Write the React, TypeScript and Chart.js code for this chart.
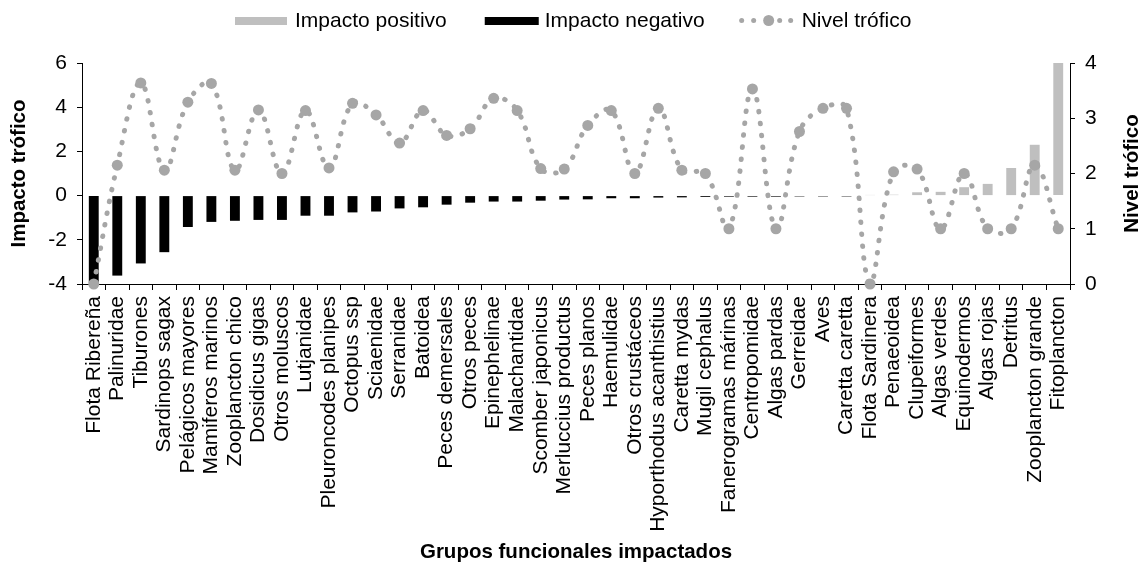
import React, { useEffect, useRef } from 'react';
import { Chart, registerables } from 'chart.js';

Chart.register(...registerables);

const FONT = "'Liberation Sans', Arial, Helvetica, sans-serif";

const categories = [
  'Flota Ribereña', 'Palinuridae', 'Tiburones', 'Sardinops sagax', 'Pelágicos mayores',
  'Mamiferos marinos', 'Zooplancton chico', 'Dosidicus gigas', 'Otros moluscos', 'Lutjanidae',
  'Pleuroncodes planipes', 'Octopus ssp', 'Sciaenidae', 'Serranidae', 'Batoidea',
  'Peces demersales', 'Otros peces', 'Epinephelinae', 'Malachantidae', 'Scomber japonicus',
  'Merluccius productus', 'Peces planos', 'Haemulidae', 'Otros crustáceos', 'Hyporthodus acanthistius',
  'Caretta mydas', 'Mugil cephalus', 'Fanerogramas márinas', 'Centropomidae', 'Algas pardas',
  'Gerreidae', 'Aves', 'Caretta caretta', 'Flota Sardinera', 'Penaeoidea',
  'Clupeiformes', 'Algas verdes', 'Equinodermos', 'Algas rojas', 'Detritus',
  'Zooplancton grande', 'Fitoplancton',
];

const impactoNegativo = [
  -3.95, -3.62, -3.07, -2.56, -1.42,
  -1.19, -1.14, -1.1, -1.1, -0.91,
  -0.91, -0.76, -0.72, -0.58, -0.53,
  -0.41, -0.32, -0.27, -0.27, -0.23,
  -0.18, -0.17, -0.12, -0.12, -0.09,
  -0.08, -0.06, -0.05, -0.05, -0.05,
  -0.04, -0.04, -0.04, null, null,
  null, null, null, null, null,
  null, null,
];

const impactoPositivo = [
  null, null, null, null, null,
  null, null, null, null, null,
  null, null, null, null, null,
  null, null, null, null, null,
  null, null, null, null, null,
  null, null, null, null, null,
  null, null, null, 0.03, 0.04,
  0.15, 0.17, 0.38, 0.53, 1.25,
  2.3, 6.0,
];

const nivelTrofico = [
  0, 2.15, 3.64, 2.06, 3.29,
  3.63, 2.06, 3.15, 2.0, 3.14,
  2.1, 3.27, 3.06, 2.55, 3.14,
  2.69, 2.81, 3.36, 3.14, 2.09,
  2.08, 2.87, 3.14, 2.0, 3.18,
  2.06, 2.0, 1.0, 3.53, 1.0,
  2.76, 3.18, 3.18, 0, 2.03,
  2.08, 1.0, 2.0, 1.0, 1.0,
  2.15, 1.0,
];

const GRAY_BAR = '#bfbfbf';
const GRAY_LINE = '#a6a6a6';

const legendPlugin = {
  id: 'customLegend',
  afterDraw(chart: any) {
    const ctx = chart.ctx as CanvasRenderingContext2D;
    const ds = chart.data.datasets;
    ctx.save();
    ctx.font = `21px ${FONT}`;
    ctx.textBaseline = 'alphabetic';
    const base = 26.5;
    let x = 235;
    // Impacto positivo
    ctx.fillStyle = GRAY_BAR;
    ctx.fillRect(x, 17, 52, 8);
    x += 60;
    ctx.fillStyle = '#000';
    ctx.fillText(ds[2].label, x, base);
    x += ctx.measureText(ds[2].label).width + 38;
    // Impacto negativo
    ctx.fillStyle = '#000';
    ctx.fillRect(x, 17, 54, 8);
    x += 60;
    ctx.fillText(ds[1].label, x, base);
    x += ctx.measureText(ds[1].label).width + 35;
    // Nivel trofico marker
    ctx.fillStyle = GRAY_LINE;
    const cy = 20.5;
    [2, 14, 40, 51].forEach((dx) => {
      ctx.beginPath();
      ctx.arc(x + dx, cy, 2.5, 0, Math.PI * 2);
      ctx.fill();
    });
    ctx.beginPath();
    ctx.arc(x + 29, cy, 5.5, 0, Math.PI * 2);
    ctx.fill();
    x += 62;
    ctx.fillStyle = '#000';
    ctx.fillText(ds[0].label, x, base);

    // Right axis title (reads bottom-to-top)
    const area = chart.chartArea;
    ctx.font = `bold 20.5px ${FONT}`;
    ctx.textAlign = 'center';
    ctx.textBaseline = 'middle';
    ctx.translate(1132, (area.top + area.bottom) / 2);
    ctx.rotate(-Math.PI / 2);
    ctx.fillText('Nivel trófico', 0, 0);
    ctx.restore();
  },
};

export default function App() {
  const canvasRef = useRef<HTMLCanvasElement | null>(null);

  useEffect(() => {
    document.body.style.margin = '0';
    const canvas = canvasRef.current;
    if (!canvas) return;
    const tickFont = { family: FONT, size: 21 };
    const titleFont = { family: FONT, size: 20.5, weight: 'bold' };
    const chart = new Chart(canvas, {
      type: 'bar',
      data: {
        labels: categories,
        datasets: [
          {
            type: 'line',
            label: 'Nivel trófico',
            data: nivelTrofico,
            yAxisID: 'y1',
            order: 0,
            borderColor: GRAY_LINE,
            borderWidth: 5,
            borderDash: [0.5, 11.5],
            borderCapStyle: 'round',
            tension: 0.4,
            pointRadius: 5.5,
            pointHoverRadius: 5.5,
            pointBackgroundColor: GRAY_LINE,
            pointBorderWidth: 0,
            clip: false,
            fill: false,
          } as any,
          {
            type: 'bar',
            label: 'Impacto negativo',
            data: impactoNegativo,
            yAxisID: 'y',
            order: 1,
            backgroundColor: '#000',
            grouped: false,
            barPercentage: 0.42,
            categoryPercentage: 1,
          } as any,
          {
            type: 'bar',
            label: 'Impacto positivo',
            data: impactoPositivo,
            yAxisID: 'y',
            order: 2,
            backgroundColor: GRAY_BAR,
            grouped: false,
            barPercentage: 0.42,
            categoryPercentage: 1,
          } as any,
        ],
      },
      options: {
        responsive: false,
        animation: false,
        devicePixelRatio: 1,
        layout: { padding: { top: 63, left: 0, right: 0, bottom: 0 } },
        plugins: {
          legend: { display: false },
          tooltip: { enabled: false },
        },
        scales: {
          x: {
            offset: true,
            grid: {
              display: true,
              drawOnChartArea: false,
              drawTicks: true,
              tickLength: 6,
              color: '#000',
              offset: true,
            },
            border: { display: true, color: '#000', width: 1 },
            ticks: {
              autoSkip: false,
              maxRotation: 90,
              minRotation: 90,
              padding: 6,
              color: '#000',
              font: tickFont,
            },
            title: {
              display: true,
              text: 'Grupos funcionales impactados',
              color: '#000',
              font: titleFont,
              padding: 0,
            },
            afterFit: (scale: any) => {
              scale.height = 281;
            },
          },
          y: {
            position: 'left',
            min: -4,
            max: 6,
            grid: {
              display: true,
              drawOnChartArea: false,
              drawTicks: true,
              tickLength: 5,
              color: '#000',
            },
            border: { display: true, color: '#000', width: 1 },
            ticks: {
              stepSize: 2,
              padding: 10,
              color: '#000',
              font: tickFont,
            },
            title: {
              display: true,
              text: 'Impacto trófico',
              color: '#000',
              font: titleFont,
              padding: { top: 7, bottom: 0 },
            },
            afterFit: (scale: any) => {
              scale.width = 82;
            },
          },
          y1: {
            position: 'right',
            min: 0,
            max: 4,
            grid: {
              display: true,
              drawOnChartArea: false,
              drawTicks: true,
              tickLength: 5,
              color: '#000',
            },
            border: { display: true, color: '#000', width: 1 },
            ticks: {
              stepSize: 1,
              padding: 10,
              color: '#000',
              font: tickFont,
            },
            title: { display: false },
            afterFit: (scale: any) => {
              scale.width = 76;
            },
          },
        },
      } as any,
      plugins: [legendPlugin],
    });
    return () => {
      chart.destroy();
    };
  }, []);

  return (
    <div style={{ width: 1146, height: 565 }}>
      <canvas ref={canvasRef} width={1146} height={565} style={{ display: 'block' }} />
    </div>
  );
}
